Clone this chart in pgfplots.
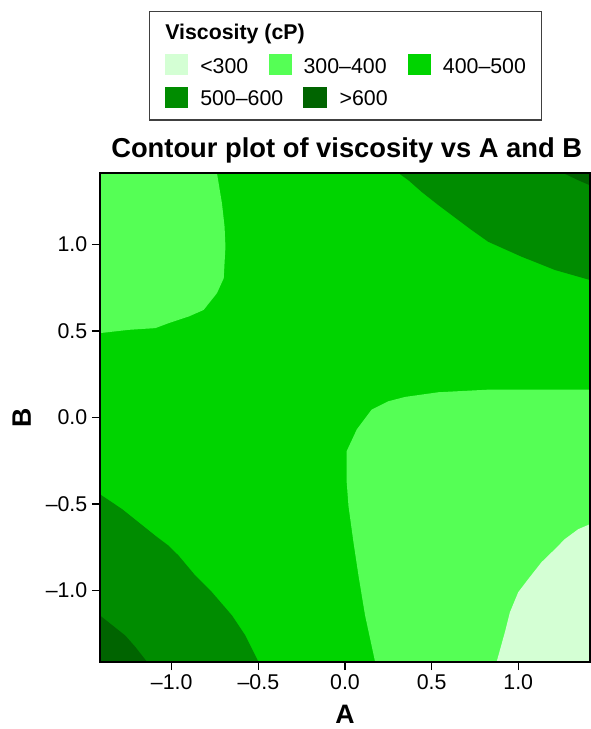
\documentclass[border=0pt]{standalone}
\usepackage{fontspec}
\setmainfont{Liberation Sans}
\usepackage{pgfplots}
\pgfplotsset{compat=1.18}
\definecolor{cA}{RGB}{212,255,212}
\definecolor{cB}{RGB}{85,255,85}
\definecolor{cC}{RGB}{0,212,0}
\definecolor{cD}{RGB}{0,140,0}
\definecolor{cE}{RGB}{0,100,0}
\begin{document}
\begin{tikzpicture}
\useasboundingbox (-75pt,-50.25pt) rectangle (367.5pt,496.5pt);
\begin{axis}[
  at={(0pt,0pt)}, anchor=south west,
  width=367.5pt, height=366.75pt, scale only axis,
  xmin=-1.414, xmax=1.414, ymin=-1.414, ymax=1.414,
  xtick={-1,-0.5,0,0.5,1}, ytick={-1,-0.5,0,0.5,1},
  xticklabels={–1.0,–0.5,0.0,0.5,1.0},
  yticklabels={–1.0,–0.5,0.0,0.5,1.0},
  tick align=outside, xtick pos=bottom, ytick pos=left,
  major tick length=6pt,
  tick style={black, line width=1.1pt},
  ticklabel style={font=\fontsize{16}{16}\selectfont},
  axis on top,
  axis line style={black, line width=1.5pt},
  clip=true,
]
% 400-500 background
\addplot[fill=cC, draw=none] coordinates {(-1.414,-1.414) (1.414,-1.414) (1.414,1.414) (-1.414,1.414)} -- cycle;
% top-left 300-400
\addplot[fill=cB, draw=none] coordinates {(-1.414,1.414) (-0.739,1.414) (-0.710,1.237) (-0.695,1.103) (-0.690,0.987) (-0.700,0.805) (-0.739,0.719) (-0.816,0.622) (-0.902,0.584) (-1.017,0.546) (-1.094,0.517) (-1.248,0.507) (-1.414,0.488)} -- cycle;
% top-right 500-600
\addplot[fill=cD, draw=none] coordinates {(0.308,1.414) (0.366,1.372) (0.443,1.304) (0.539,1.228) (0.731,1.084) (0.827,1.016) (1.019,0.930) (1.212,0.853) (1.414,0.795) (1.414,1.414)} -- cycle;
% top-right >600
\addplot[fill=cE, draw=none] coordinates {(1.259,1.414) (1.346,1.372) (1.414,1.343) (1.414,1.414)} -- cycle;
% middle-right 300-400
\addplot[fill=cB, draw=none] coordinates {(1.414,0.161) (0.827,0.161) (0.731,0.156) (0.539,0.146) (0.347,0.119) (0.251,0.094) (0.154,0.046) (0.068,-0.069) (0.010,-0.194) (0.010,-0.376) (0.020,-0.511) (0.049,-0.722) (0.078,-0.915) (0.116,-1.145) (0.174,-1.414) (1.414,-1.414)} -- cycle;
% bottom-right <300
\addplot[fill=cA, draw=none] coordinates {(0.875,-1.414) (0.923,-1.241) (0.952,-1.126) (1.000,-1.010) (1.058,-0.934) (1.134,-0.837) (1.212,-0.761) (1.269,-0.703) (1.346,-0.646) (1.414,-0.617) (1.414,-1.414)} -- cycle;
% bottom-left 500-600
\addplot[fill=cD, draw=none] coordinates {(-1.414,-0.444) (-1.286,-0.530) (-1.190,-0.607) (-1.094,-0.684) (-1.017,-0.742) (-0.960,-0.799) (-0.863,-0.915) (-0.768,-1.010) (-0.652,-1.145) (-0.575,-1.261) (-0.499,-1.414) (-1.414,-1.414)} -- cycle;
% bottom-left >600
\addplot[fill=cE, draw=none] coordinates {(-1.414,-1.145) (-1.268,-1.261) (-1.210,-1.327) (-1.142,-1.414) (-1.414,-1.414)} -- cycle;
\end{axis}
% title and axis labels
\node[anchor=base, inner sep=0pt, font=\fontsize{20.5}{20.5}\selectfont\bfseries] at (185pt,378pt) {Contour plot of viscosity vs A and B};
\node[anchor=base, inner sep=0pt, font=\fontsize{20}{20}\selectfont\bfseries] at (183.75pt,-46.3pt) {A};
\node[anchor=center, inner sep=0pt, rotate=90, font=\fontsize{20}{20}\selectfont\bfseries] at (-58.7pt,183.4pt) {B};
% legend
\draw[color=black!75, line width=0.8pt] (37pt,406.5pt) rectangle (331.3pt,487.7pt);
\node[anchor=base west, inner sep=0pt, font=\fontsize{16}{16}\selectfont\bfseries] at (48.75pt,466.5pt) {Viscosity (cP)};
\fill[cA] (48.75pt,440.25pt) rectangle (65.8pt,455.8pt);
\fill[cB] (126.75pt,440.25pt) rectangle (144.2pt,455.8pt);
\fill[cC] (230.8pt,440.25pt) rectangle (248.25pt,455.8pt);
\fill[cD] (48.75pt,415.3pt) rectangle (65.8pt,431.5pt);
\fill[cE] (152.5pt,415.3pt) rectangle (170pt,431.5pt);
\node[anchor=base west, inner sep=0pt, font=\fontsize{16}{16}\selectfont] at (75pt,441.5pt) {<300};
\node[anchor=base west, inner sep=0pt, font=\fontsize{16}{16}\selectfont] at (152.5pt,441.5pt) {300–400};
\node[anchor=base west, inner sep=0pt, font=\fontsize{16}{16}\selectfont] at (257pt,441.5pt) {400–500};
\node[anchor=base west, inner sep=0pt, font=\fontsize{16}{16}\selectfont] at (75pt,417pt) {500–600};
\node[anchor=base west, inner sep=0pt, font=\fontsize{16}{16}\selectfont] at (179.5pt,417pt) {>600};
\end{tikzpicture}
\end{document}
